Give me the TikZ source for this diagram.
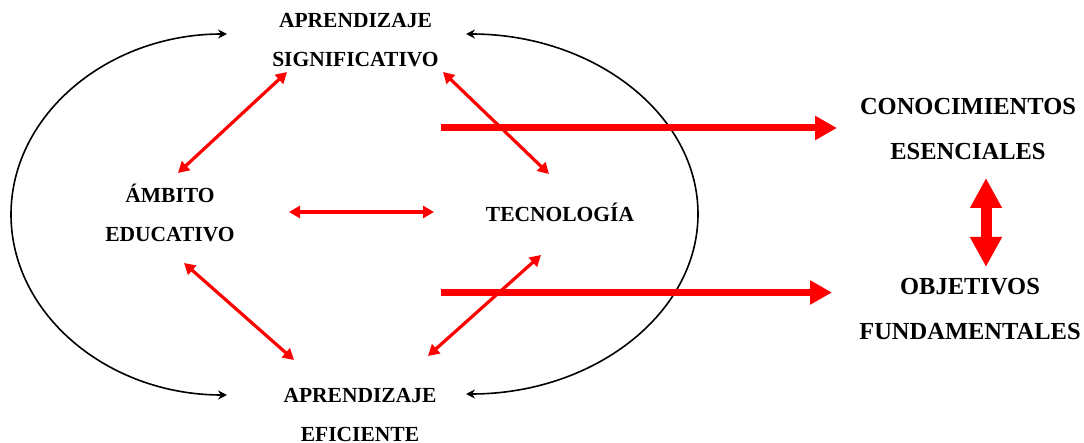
\documentclass[tikz,border=0pt]{standalone}
\usepackage{fontspec}
\setmainfont{Liberation Serif}
\usetikzlibrary{arrows.meta}
\tikzset{
  lbl/.style={inner sep=0pt, anchor=base, align=center, font=\bfseries\fontsize{21.5}{39}\selectfont},
  lblbig/.style={inner sep=0pt, anchor=base, align=center, font=\bfseries\fontsize{24.5}{45}\selectfont},
  loop/.style={draw=black, line width=1.6pt, {Stealth[length=9pt,width=9pt]}-{Stealth[length=9pt,width=9pt]}},
  link/.style={draw=red, line width=3.2pt, {Triangle[length=11pt,width=12pt]}-{Triangle[length=11pt,width=12pt]}},
  flow/.style={draw=red, line width=7pt, -{Triangle[length=22pt,width=23pt]}},
  swap/.style={draw=red, line width=11pt, {Triangle[length=30pt,width=30pt]}-{Triangle[length=30pt,width=30pt]}}
}
\begin{document}
\begin{tikzpicture}[x=1pt, y=-1pt]
\useasboundingbox (0,0) rectangle (1084,443);

% labels (base = baseline of the last line)
\node[lbl] (as)  at (355.5,67) {APRENDIZAJE\\SIGNIFICATIVO};
\node[lbl] (amb) at (170,242)  {ÁMBITO\\EDUCATIVO};
\node[lbl] (tec) at (560,222)  {TECNOLOGÍA};
\node[lbl] (ae)  at (360,441)  {APRENDIZAJE\\EFICIENTE};
\node[lblbig] (ce) at (968,160) {CONOCIMIENTOS\\ESENCIALES};
\node[lblbig] (of) at (970,340) {OBJETIVOS\\FUNDAMENTALES};

% end points of the connectors
\coordinate (asL) at (287,72);   \coordinate (asR) at (443,72);
\coordinate (ambT) at (178,173); \coordinate (ambR) at (289,212); \coordinate (ambB) at (184,263);
\coordinate (tecT) at (549,174); \coordinate (tecL) at (434,212); \coordinate (tecB) at (541,255);
\coordinate (aeL) at (294,360);  \coordinate (aeR) at (428,356);
\coordinate (asW) at (227,34);   \coordinate (asE) at (466,34);
\coordinate (aeW) at (232,395);  \coordinate (aeE) at (473,394);
\coordinate (f1) at (441,128);   \coordinate (ceW) at (837,128);
\coordinate (f2) at (441,292.5); \coordinate (ofW) at (832,292.5);
\coordinate (ceS) at (986,178);  \coordinate (ofN) at (986,267);

% outer loops
\draw[loop] (asW) arc[start angle=90, end angle=270, x radius=216pt, y radius=180.5pt];
\draw[loop] (asE) arc[start angle=90, end angle=-90, x radius=232pt, y radius=180pt];

% relations between the four concepts
\draw[link] (asL) -- (ambT);
\draw[link] (asR) -- (tecT);
\draw[link] (ambR) -- (tecL);
\draw[link] (ambB) -- (aeL);
\draw[link] (tecB) -- (aeR);

% outcomes
\draw[flow] (f1) -- (ceW);
\draw[flow] (f2) -- (ofW);
\draw[swap] (ceS) -- (ofN);
\end{tikzpicture}
\end{document}
